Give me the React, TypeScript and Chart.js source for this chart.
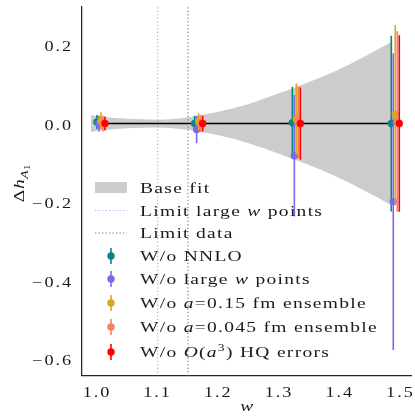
import React, { useEffect, useRef } from "react";
import { Chart, registerables } from "chart.js";

Chart.register(...registerables);

// ---------------- data ----------------
const W_POINTS = [1.0, 1.161, 1.322, 1.485];
const SERIES_OFFSETS = [0, 0.0033, 0.0066, 0.0099, 0.0132];

const NNLO_Y = [0.004, 0.0, 0.002, 0.0];
const NNLO_ERR = [0.018, 0.02, 0.092, 0.224];
const LARGEW_Y = [0.0, -0.015, -0.082, -0.199];
const LARGEW_ERR = [0.02, 0.035, 0.155, 0.378];
const A015_Y = [0.007, 0.004, 0.011, 0.023];
const A015_ERR = [0.022, 0.022, 0.091, 0.228];
const A0045_Y = [0.0, 0.0, 0.003, 0.005];
const A0045_ERR = [0.02, 0.022, 0.092, 0.23];
const HQ_Y = [0.0, 0.0, 0.0, 0.0];
const HQ_ERR = [0.018, 0.02, 0.092, 0.225];

const BAND_W = [0.99, 1.0, 1.05, 1.1, 1.15, 1.2, 1.25, 1.3, 1.366, 1.415, 1.464, 1.487];
const BAND_HALF = [0.022, 0.019, 0.012, 0.01, 0.016, 0.03, 0.05, 0.077, 0.116, 0.15, 0.19, 0.21];

const LIMIT_LARGE_W = 1.1;
const LIMIT_DATA = 1.15;

const X_TICKS = [1.0, 1.1, 1.2, 1.3, 1.4, 1.5];
const Y_TICKS = [-0.6, -0.4, -0.2, 0.0, 0.2];
const X_RANGE = [0.9754, 1.518];
const Y_RANGE = [-0.642, 0.297];

const COLORS = ["#0a8585", "#7b68ee", "#daa520", "#fa8060", "#ff0000"];
const SERIES_Y = [NNLO_Y, LARGEW_Y, A015_Y, A0045_Y, HQ_Y];
const SERIES_ERR = [NNLO_ERR, LARGEW_ERR, A015_ERR, A0045_ERR, HQ_ERR];

type Run = { t: string; it?: boolean; sup?: boolean; sub?: boolean; subsub?: boolean };

const LEGEND_TEXT: Run[][] = [
  [{ t: "Base fit" }],
  [{ t: "Limit large " }, { t: "w", it: true }, { t: " points" }],
  [{ t: "Limit data" }],
  [{ t: "W/o NNLO" }],
  [{ t: "W/o large " }, { t: "w", it: true }, { t: " points" }],
  [{ t: "W/o " }, { t: "a", it: true }, { t: "=0.15 fm ensemble" }],
  [{ t: "W/o " }, { t: "a", it: true }, { t: "=0.045 fm ensemble" }],
  [{ t: "W/o " }, { t: "O", it: true }, { t: "(" }, { t: "a", it: true }, { t: "3", sup: true }, { t: ") HQ errors" }],
];

// ---------------- text helpers ----------------
const FONT = '"Liberation Serif", "DejaVu Serif", serif';
const SX = 1.3;
const TEXT_COLOR = "#1a1a1a";

function runSize(r: Run, size: number) {
  if (r.subsub) return size * 0.5;
  return r.sup || r.sub ? size * 0.7 : size;
}
function setRunFont(ctx: CanvasRenderingContext2D, r: Run, size: number, ls: number) {
  ctx.font = `${r.it ? "italic " : ""}${runSize(r, size)}px ${FONT}`;
  (ctx as any).letterSpacing = `${ls}px`;
}
function runsWidth(ctx: CanvasRenderingContext2D, runs: Run[], size: number, ls: number) {
  let w = 0;
  for (const r of runs) {
    setRunFont(ctx, r, size, ls);
    w += ctx.measureText(r.t).width * SX;
  }
  return w;
}
function drawRuns(
  ctx: CanvasRenderingContext2D,
  runs: Run[],
  x: number,
  baseline: number,
  size: number,
  align: "left" | "center" | "right",
  ls: number,
  color: string
) {
  ctx.save();
  const total = runsWidth(ctx, runs, size, ls);
  let cx = align === "center" ? x - total / 2 : align === "right" ? x - total : x;
  for (const r of runs) {
    setRunFont(ctx, r, size, ls);
    const w = ctx.measureText(r.t).width * SX;
    const dy = r.sup ? -size * 0.4 : r.sub ? size * 0.25 : r.subsub ? size * 0.4 : 0;
    ctx.save();
    ctx.fillStyle = color;
    ctx.textAlign = "left";
    ctx.textBaseline = "alphabetic";
    ctx.translate(cx, baseline + dy);
    ctx.scale(SX, 1);
    ctx.fillText(r.t, 0, 0);
    ctx.restore();
    cx += w;
  }
  ctx.restore();
}

// ---------------- plugins ----------------
const errorBarPlugin = {
  id: "errorBars",
  beforeDatasetDraw(chart: any, args: any) {
    const ds = chart.data.datasets[args.index];
    if (!ds.errors) return;
    const { ctx, chartArea } = chart;
    const xs = chart.scales.x;
    const ys = chart.scales.y;
    ctx.save();
    ctx.beginPath();
    ctx.rect(chartArea.left, chartArea.top, chartArea.right - chartArea.left, chartArea.bottom - chartArea.top);
    ctx.clip();
    ctx.strokeStyle = ds.backgroundColor;
    ctx.lineWidth = 1.6;
    ctx.beginPath();
    ds.data.forEach((p: any, i: number) => {
      const e = ds.errors[i];
      const px = xs.getPixelForValue(p.x);
      ctx.moveTo(px, ys.getPixelForValue(p.y - e));
      ctx.lineTo(px, ys.getPixelForValue(p.y + e));
    });
    ctx.stroke();
    ctx.restore();
  },
};

const textPlugin = {
  id: "texts",
  afterDraw(chart: any) {
    const { ctx, chartArea } = chart;
    const xs = chart.scales.x;
    const ys = chart.scales.y;
    const TICK = 14;
    for (const v of X_TICKS) {
      const px = xs.getPixelForValue(v);
      drawRuns(ctx, [{ t: v.toFixed(1) }], px, chartArea.bottom + 21.5, TICK, "center", 1.5, TEXT_COLOR);
    }
    for (const v of Y_TICKS) {
      const py = ys.getPixelForValue(v);
      const label = v < 0 ? "\u2212" + Math.abs(v).toFixed(1) : v.toFixed(1);
      drawRuns(ctx, [{ t: label }], chartArea.left - 9, py + 6, TICK, "right", 1.5, TEXT_COLOR);
    }
    drawRuns(ctx, [{ t: "w", it: true }], (chartArea.left + chartArea.right) / 2, 411, 15, "center", 0, TEXT_COLOR);
    ctx.save();
    ctx.translate(24, (chartArea.top + chartArea.bottom) / 2 - 8);
    ctx.rotate(-Math.PI / 2);
    drawRuns(
      ctx,
      [{ t: "\u0394" }, { t: "h", it: true }, { t: "A", it: true, sub: true }, { t: "1", subsub: true }],
      0,
      0,
      15,
      "center",
      0.5,
      TEXT_COLOR
    );
    ctx.restore();

    // legend
    const rowsY = [187.5, 210.5, 233, 256, 279, 303, 327, 352];
    const sampleL = 95;
    const sampleR = 127;
    const textX = 140;
    const LSIZE = 15;
    rowsY.forEach((y, i) => {
      ctx.save();
      if (i === 0) {
        ctx.fillStyle = "#cccccc";
        ctx.fillRect(sampleL, y - 5.5, sampleR - sampleL, 11);
      } else if (i === 1 || i === 2) {
        ctx.strokeStyle = i === 1 ? "rgba(123,104,238,0.55)" : "#808080";
        ctx.lineWidth = 1.2;
        ctx.setLineDash([1.3, 2.2]);
        ctx.beginPath();
        ctx.moveTo(sampleL, y);
        ctx.lineTo(sampleR, y);
        ctx.stroke();
      } else {
        const c = COLORS[i - 3];
        const cx = (sampleL + sampleR) / 2;
        ctx.strokeStyle = c;
        ctx.lineWidth = 1.6;
        ctx.beginPath();
        ctx.moveTo(cx, y - 8);
        ctx.lineTo(cx, y + 8);
        ctx.stroke();
        ctx.fillStyle = c;
        ctx.beginPath();
        ctx.arc(cx, y, 3.7, 0, Math.PI * 2);
        ctx.fill();
      }
      ctx.restore();
      drawRuns(ctx, LEGEND_TEXT[i], textX, y + 5, LSIZE, "left", 1, TEXT_COLOR);
    });
  },
};

// ---------------- component ----------------
export default function App() {
  const canvasRef = useRef<HTMLCanvasElement | null>(null);

  useEffect(() => {
    if (!canvasRef.current) return;

    const band_hi = BAND_W.map((w, i) => ({ x: w, y: BAND_HALF[i] }));
    const band_lo = BAND_W.map((w, i) => ({ x: w, y: -BAND_HALF[i] }));

    const seriesDatasets = SERIES_Y.map((ys, s) => ({
      type: "scatter" as const,
      data: W_POINTS.map((w, i) => ({ x: w + SERIES_OFFSETS[s], y: ys[i] })),
      errors: SERIES_ERR[s],
      backgroundColor: COLORS[s],
      borderColor: COLORS[s],
      pointRadius: 3.7,
      pointBorderWidth: 0,
      pointHoverRadius: 3.7,
      order: 5 - s,
    }));

    const chart = new Chart(canvasRef.current, {
      type: "scatter",
      data: {
        datasets: [
          {
            type: "line",
            data: band_hi,
            borderWidth: 0,
            borderColor: "rgba(0,0,0,0)",
            backgroundColor: "#cccccc",
            pointRadius: 0,
            fill: "+1",
            cubicInterpolationMode: "monotone",
            order: 20,
          },
          {
            type: "line",
            data: band_lo,
            borderWidth: 0,
            borderColor: "rgba(0,0,0,0)",
            backgroundColor: "#cccccc",
            pointRadius: 0,
            fill: false,
            cubicInterpolationMode: "monotone",
            order: 20,
          },
          {
            type: "line",
            data: [
              { x: LIMIT_LARGE_W, y: -1 },
              { x: LIMIT_LARGE_W, y: 1 },
            ],
            borderColor: "rgba(123,104,238,0.55)",
            borderWidth: 1.2,
            borderDash: [1.3, 2.2],
            pointRadius: 0,
            fill: false,
            order: 15,
          },
          {
            type: "line",
            data: [
              { x: LIMIT_DATA, y: -1 },
              { x: LIMIT_DATA, y: 1 },
            ],
            borderColor: "#808080",
            borderWidth: 1.2,
            borderDash: [1.3, 2.2],
            pointRadius: 0,
            fill: false,
            order: 15,
          },
          {
            type: "line",
            data: [
              { x: W_POINTS[0], y: 0 },
              { x: BAND_W[BAND_W.length - 1], y: 0 },
            ],
            borderColor: "#000000",
            borderWidth: 1.5,
            pointRadius: 0,
            fill: false,
            order: 10,
          },
          ...seriesDatasets,
        ] as any,
      },
      options: {
        animation: false,
        responsive: false,
        events: [],
        layout: { padding: { top: 7, right: 2, left: 0, bottom: 0 } },
        plugins: {
          legend: { display: false },
          tooltip: { enabled: false },
        },
        scales: {
          x: {
            type: "linear",
            min: X_RANGE[0],
            max: X_RANGE[1],
            grid: { display: false },
            border: { display: true, color: "#262626", width: 1.25 },
            ticks: { display: false },
            afterFit: (s: any) => {
              s.height = 40.5;
            },
          },
          y: {
            type: "linear",
            min: Y_RANGE[0],
            max: Y_RANGE[1],
            grid: { display: false },
            border: { display: true, color: "#262626", width: 1.25 },
            ticks: { display: false },
            afterFit: (s: any) => {
              s.width = 82;
            },
          },
        },
      } as any,
      plugins: [errorBarPlugin, textPlugin],
    });

    return () => chart.destroy();
  }, []);

  return (
    <div style={{ position: "absolute", left: 0, top: 0, width: 415, height: 416, background: "#fff" }}>
      <canvas ref={canvasRef} width={415} height={416} style={{ display: "block" }} />
    </div>
  );
}
